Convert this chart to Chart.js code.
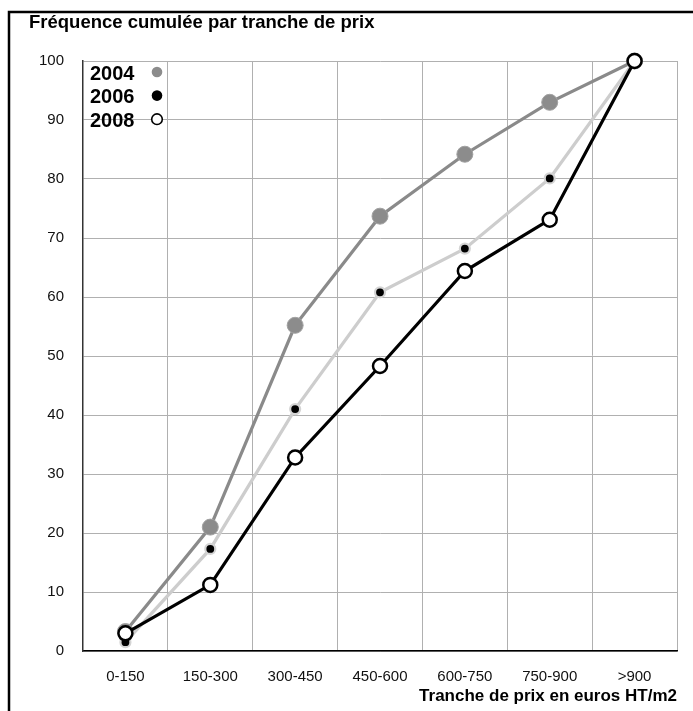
<!DOCTYPE html>
<html>
<head>
<meta charset="utf-8">
<script src="https://cdn.jsdelivr.net/npm/chart.js@4/dist/chart.umd.min.js"></script>
<style>
  body { margin: 0; background: #fff; }
  canvas { display: block; }
</style>
</head>
<body>
<canvas id="chart" width="693" height="711"></canvas>
<script>
// data
const categories = ['0-150', '150-300', '300-450', '450-600', '600-750', '750-900', '>900'];
const yTicks = [0, 10, 20, 30, 40, 50, 60, 70, 80, 90, 100];
const years = ['2004', '2006', '2008'];
const values2004 = [3.3, 21, 55.2, 73.7, 84.2, 93, 100];
const values2006 = [1.5, 17.3, 41, 60.8, 68.2, 80.1, 100];
const values2008 = [3, 11.2, 32.8, 48.3, 64.4, 73.1, 100];

const chartTitle = 'Fréquence cumulée par tranche de prix';
const xTitle = 'Tranche de prix en euros HT/m2';

const FONT = "'Liberation Sans', Arial, Helvetica, sans-serif";
Chart.defaults.font.family = FONT;

// frame, titles and the little legend inside the plot
const decorations = {
  id: 'decorations',
  beforeDraw(chart) {
    const ctx = chart.ctx;
    ctx.save();
    ctx.fillStyle = '#fff';
    ctx.fillRect(0, 0, chart.width, chart.height);
    ctx.strokeStyle = '#000';
    ctx.lineWidth = 2.5;
    ctx.beginPath();
    ctx.moveTo(9, chart.height + 5);
    ctx.lineTo(9, 12);
    ctx.lineTo(chart.width + 5, 12);
    ctx.stroke();
    ctx.restore();
  },
  afterDraw(chart) {
    const ctx = chart.ctx;
    const area = chart.chartArea;
    ctx.save();
    ctx.fillStyle = '#000';
    ctx.textBaseline = 'alphabetic';

    ctx.font = 'bold 18.5px ' + FONT;
    ctx.textAlign = 'left';
    ctx.fillText(chartTitle, 29, 28);

    ctx.font = 'bold 17px ' + FONT;
    ctx.textAlign = 'right';
    ctx.fillText(xTitle, area.right, 701);

    // legend: label first, then marker
    ctx.textAlign = 'left';
    ctx.font = 'bold 20px ' + FONT;
    chart.data.datasets.forEach((ds, i) => {
      const base = 79.5 + i * 23.6;
      ctx.fillStyle = '#000';
      ctx.fillText(ds.label, 90, base);
      ctx.beginPath();
      ctx.arc(157, base - 7.5, 5.3, 0, Math.PI * 2);
      if (ds.label === '2008') {
        ctx.fillStyle = '#fff';
        ctx.fill();
        ctx.lineWidth = 1.6;
        ctx.strokeStyle = '#000';
        ctx.stroke();
      } else {
        ctx.fillStyle = ds.label === '2004' ? '#8c8c8c' : '#000';
        ctx.fill();
      }
    });
    ctx.restore();
  }
};

new Chart(document.getElementById('chart'), {
  type: 'line',
  data: {
    labels: categories,
    datasets: [
      {
        label: years[0],
        data: values2004,
        order: 2,
        borderColor: '#8a8a8a',
        borderWidth: 3.2,
        pointRadius: 8,
        pointBackgroundColor: '#8c8c8c',
        pointBorderColor: '#a2a2a2',
        pointBorderWidth: 1,
        clip: false
      },
      {
        label: years[1],
        data: values2006,
        order: 1,
        borderColor: '#cdcdcd',
        borderWidth: 3.2,
        pointRadius: 5,
        pointBackgroundColor: '#000',
        pointBorderColor: '#d4d4d4',
        pointBorderWidth: 2.2,
        clip: false
      },
      {
        label: years[2],
        data: values2008,
        order: 0,
        borderColor: '#000',
        borderWidth: 3.2,
        pointRadius: 7,
        pointBackgroundColor: '#fff',
        pointBorderColor: '#000',
        pointBorderWidth: 2.5,
        clip: false
      }
    ]
  },
  options: {
    responsive: false,
    animation: false,
    devicePixelRatio: 1,
    layout: { padding: { top: 61, right: 16, left: 0, bottom: 0 } },
    plugins: {
      legend: { display: false },
      title: { display: false },
      tooltip: { enabled: false }
    },
    scales: {
      x: {
        type: 'category',
        offset: true,
        grid: { offset: true, color: '#b0b0b0', lineWidth: 1, drawTicks: false },
        border: { color: '#000', width: 1.5 },
        ticks: { color: '#111', font: { size: 15 }, padding: 17, maxRotation: 0 },
        afterFit(scale) { scale.height = 60; }
      },
      y: {
        min: 0,
        max: 100,
        afterBuildTicks(scale) { scale.ticks = yTicks.map(v => ({ value: v })); },
        grid: { color: '#b0b0b0', lineWidth: 1, drawTicks: false },
        border: { color: '#333', width: 1.5 },
        ticks: { color: '#111', font: { size: 15 }, padding: 19 },
        afterFit(scale) { scale.width = 83; }
      }
    }
  },
  plugins: [decorations]
});
</script>
</body>
</html>
